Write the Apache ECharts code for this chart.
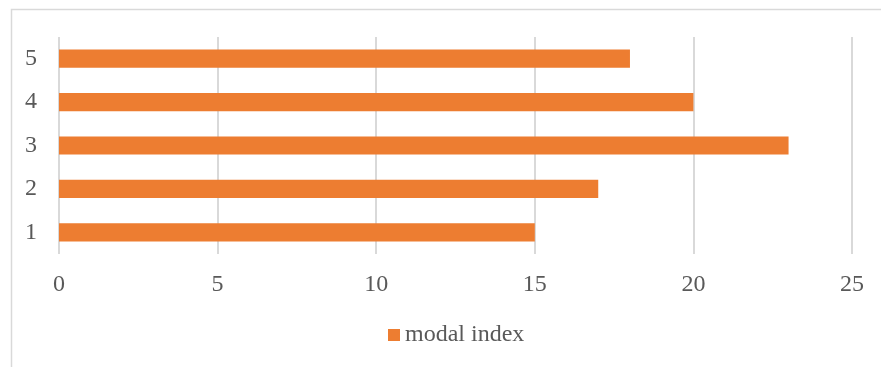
<!DOCTYPE html>
<html>
<head>
<meta charset="utf-8">
<script src="https://cdn.jsdelivr.net/npm/echarts@6/dist/echarts.min.js"></script>
<style>
  html, body { margin: 0; padding: 0; background: #ffffff; }
  #chart { width: 881px; height: 367px; }
</style>
</head>
<body>
<div id="chart"></div>
<script>
// Categories (bottom to top) and their modal index values
const categories = ['1', '2', '3', '4', '5'];
const modalIndex = [15, 17, 23, 20, 18];
const seriesName = 'modal index';

const fontFamily = "'Liberation Serif', 'Times New Roman', serif";
const textColor = '#595959';
const gridColor = '#d9d9d9';

const chart = echarts.init(document.getElementById('chart'), null, { renderer: 'canvas' });

chart.setOption({
  backgroundColor: '#ffffff',
  animation: false,
  textStyle: { fontFamily: fontFamily },
  graphic: [{
    type: 'rect',
    left: 9, top: 7,
    shape: { width: 900, height: 400 },
    style: { fill: 'none', stroke: gridColor, lineWidth: 1.5 },
    silent: true
  }],
  grid: { left: 59, right: 29, top: 37, bottom: 113 },
  legend: {
    data: [seriesName],
    left: 388,
    top: 323,
    padding: 0,
    icon: 'rect',
    itemWidth: 12,
    itemHeight: 12,
    textStyle: { fontFamily: fontFamily, fontSize: 24, color: textColor }
  },
  xAxis: {
    type: 'value',
    min: 0,
    max: 25,
    interval: 5,
    axisLine: { show: false },
    axisTick: { show: false },
    splitLine: { show: true, lineStyle: { color: gridColor, width: 2 } },
    axisLabel: { fontFamily: fontFamily, fontSize: 24, color: textColor, margin: 19 }
  },
  yAxis: {
    type: 'category',
    data: categories,
    axisLine: { show: false },
    axisTick: { show: false },
    splitLine: { show: false },
    axisLabel: { fontFamily: fontFamily, fontSize: 24, color: textColor, margin: 22 }
  },
  series: [{
    name: seriesName,
    type: 'bar',
    data: modalIndex,
    barCategoryGap: '58%',
    itemStyle: { color: '#ED7D31' }
  }]
});
</script>
</body>
</html>
